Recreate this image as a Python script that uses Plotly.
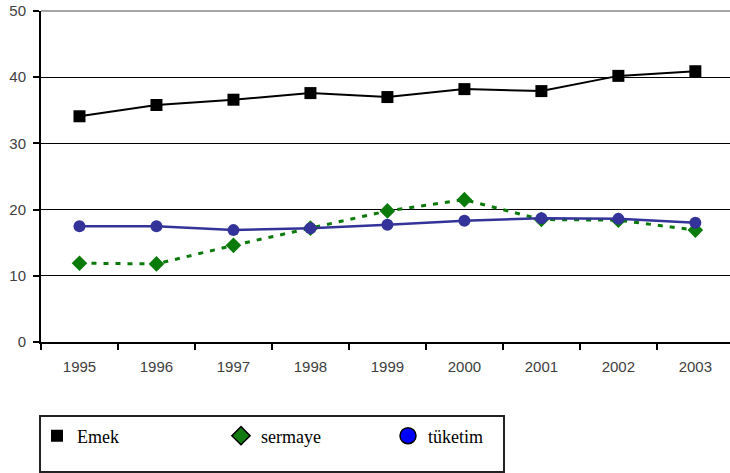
import plotly.graph_objects as go

years = ["1995", "1996", "1997", "1998", "1999", "2000", "2001", "2002", "2003"]
emek = [34.1, 35.8, 36.6, 37.6, 37.0, 38.2, 37.9, 40.2, 40.9]
sermaye = [11.9, 11.8, 14.6, 17.2, 19.8, 21.5, 18.5, 18.4, 16.9]
tuketim = [17.5, 17.5, 16.9, 17.2, 17.7, 18.3, 18.7, 18.6, 18.0]
y_ticks = [0, 10, 20, 30, 40, 50]

W, H = 730, 473
L, R, T, B = 41, 0, 11, 473 - 342
pw, ph = W - L - R, H - T - B

def px_x(p):
    return (p - L) / pw

def px_y(p):
    return (H - B - p) / ph

fig = go.Figure()
fig.add_trace(go.Scatter(x=years, y=emek, mode="lines+markers", showlegend=False,
                         line=dict(color="black", width=2),
                         marker=dict(symbol="square", size=12, color="black")))
fig.add_trace(go.Scatter(x=years, y=sermaye, mode="lines+markers", showlegend=False,
                         line=dict(color="#0a7a0a", width=3, dash="5px,7px"),
                         marker=dict(symbol="diamond", size=12, color="#0a7a0a")))
fig.add_trace(go.Scatter(x=years, y=tuketim, mode="lines+markers", showlegend=False,
                         line=dict(color="#333399", width=2.5),
                         marker=dict(symbol="circle", size=12, color="#333399")))

# legend-only entries
fig.add_trace(go.Scatter(x=[None], y=[None], mode="markers", name="Emek", legend="legend",
                         marker=dict(symbol="square", size=12, color="black")))
fig.add_trace(go.Scatter(x=[None], y=[None], mode="markers", name="sermaye", legend="legend2",
                         marker=dict(symbol="diamond", size=14, color="#117a11",
                                     line=dict(color="black", width=1.5))))
fig.add_trace(go.Scatter(x=[None], y=[None], mode="markers", name="tüketim", legend="legend3",
                         marker=dict(symbol="circle", size=16, color="#0000ff",
                                     line=dict(color="black", width=1.5))))

leg_font = dict(family="Liberation Serif, Times New Roman, serif", size=18, color="black")
def leg(xpx, ypx):
    return dict(x=px_x(xpx), y=px_y(ypx), xanchor="left", yanchor="middle",
                font=leg_font, bgcolor="rgba(0,0,0,0)", borderwidth=0,
                itemwidth=30)

tick_font = dict(family="Liberation Sans, Arial, sans-serif", size=15, color="#404040")
fig.update_layout(
    width=W, height=H,
    margin=dict(l=L, r=R, t=T, b=B, pad=0, autoexpand=False),
    paper_bgcolor="white", plot_bgcolor="white",
    legend=leg(37, 436), legend2=leg(221, 436), legend3=leg(388, 436),
    xaxis=dict(type="category", range=[-0.5, 8.45], tickson="boundaries",
               ticks="outside", ticklen=6, tickcolor="black", tickwidth=2,
               ticklabelstandoff=10, automargin=False,
               showline=True, linecolor="black", linewidth=2, showgrid=False,
               tickfont=tick_font),
    yaxis=dict(range=[0, 50], tickvals=y_ticks, ticks="outside", ticklen=6,
               tickcolor="black", tickwidth=2, showline=True, linecolor="black", linewidth=2,
               ticklabelstandoff=4, ticklabeloverflow="allow", automargin=False,
               showgrid=True, gridcolor="black", gridwidth=1, zeroline=False,
               tickfont=tick_font),
    shapes=[
        dict(type="rect", xref="paper", yref="paper",
             x0=px_x(40), x1=px_x(504), y0=px_y(472), y1=px_y(416),
             line=dict(color="#222", width=2), fillcolor="rgba(0,0,0,0)"),
        dict(type="line", xref="paper", yref="paper", x0=0, x1=1, y0=1, y1=1,
             line=dict(color="#888", width=1.5)),
    ],
)

fig.write_html("out.html", config={"displayModeBar": False},
               post_script="document.body.style.margin='0';document.body.style.overflow='hidden';")
